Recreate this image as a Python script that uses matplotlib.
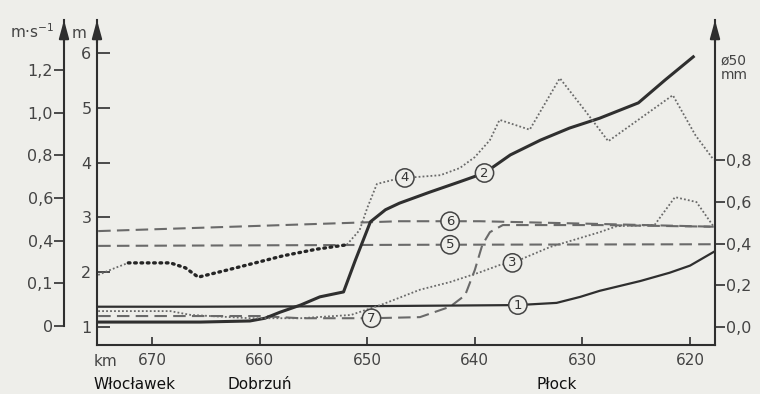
import matplotlib
matplotlib.use("Agg")
import matplotlib.pyplot as plt
import matplotlib.transforms as mtransforms

# osie
km_ticks = [670, 660, 650, 640, 630, 620]
m_ticks = [1, 2, 3, 4, 5, 6]
v_ticks = [0.0, 0.2, 0.4, 0.6, 0.8, 1.0, 1.2]
v_labels = ["0", "0,1", "0,4", "0,6", "0,8", "1,0", "1,2"]
d_ticks = [0.0, 0.2, 0.4, 0.6, 0.8]
d_labels = ["0,0", "0,2", "0,4", "0,6", "0,8"]

places = ["Włocławek", "Dobrzuń", "Płock"]
places_km = [671.6, 660.0, 632.4]

# krzywe (km, wartosc w skali m)
line1_km = [675.0, 665.5, 650.0, 636.0, 632.4, 630.2, 628.4, 624.6, 621.9, 620.0, 617.8]
line1_y = [1.37, 1.37, 1.38, 1.40, 1.44, 1.55, 1.66, 1.84, 1.99, 2.12, 2.37]

line2_km = [675.0, 665.5, 660.9, 659.5, 658.1, 656.2, 654.4, 652.2, 651.1, 649.7, 648.3,
            647.0, 644.2, 641.4, 639.1, 636.7, 633.9, 631.2, 628.4, 624.8, 622.3, 619.7]
line2_y = [1.09, 1.09, 1.11, 1.16, 1.27, 1.40, 1.55, 1.64, 2.22, 2.92, 3.14,
           3.26, 3.46, 3.65, 3.81, 4.14, 4.41, 4.63, 4.81, 5.09, 5.51, 5.93]

line3_km = [675.0, 668.3, 666.4, 660.9, 656.2, 651.5, 648.5, 645.1, 642.3, 639.5, 637.7,
            636.5, 633.0, 628.4, 626.8, 623.3, 621.4, 619.4, 617.8]
line3_y = [1.29, 1.29, 1.22, 1.16, 1.16, 1.22, 1.42, 1.68, 1.82, 2.00, 2.13,
           2.17, 2.46, 2.73, 2.84, 2.86, 3.37, 3.28, 2.83]

line4_km = [675.0, 673.4, 672.2, 668.3, 666.9, 665.7, 663.0, 660.0, 657.8, 654.7, 651.9,
            650.7, 650.0, 649.1, 647.7, 646.5, 643.2, 641.4, 640.0, 638.6, 637.7, 634.9,
            632.1, 629.8, 627.6, 624.6, 621.6, 619.5, 617.8]
line4_y = [1.95, 2.08, 2.17, 2.17, 2.08, 1.91, 2.04, 2.19, 2.30, 2.42, 2.50,
           2.77, 3.17, 3.61, 3.68, 3.72, 3.77, 3.90, 4.10, 4.41, 4.78, 4.60,
           5.54, 4.96, 4.39, 4.81, 5.23, 4.50, 4.05]

line5_km = [675.0, 646.0, 617.8]
line5_y = [2.48, 2.50, 2.51]

line6_km = [675.0, 660.9, 647.0, 639.5, 628.4, 617.8]
line6_y = [2.75, 2.84, 2.93, 2.93, 2.88, 2.83]

line7_km = [675.0, 665.5, 660.0, 656.2, 649.6, 645.1, 642.3, 640.9, 640.0, 639.3, 638.6,
            637.4, 632.1, 628.4, 617.8]
line7_y = [1.20, 1.20, 1.20, 1.16, 1.16, 1.18, 1.37, 1.58, 2.04, 2.50, 2.73,
           2.86, 2.86, 2.86, 2.83]

label_no = [1, 2, 3, 4, 5, 6, 7]
label_km = [636.0, 639.1, 636.5, 646.5, 642.3, 642.3, 649.6]
label_y = [1.40, 3.81, 2.17, 3.72, 2.50, 2.93, 1.16]

bg = "#eeeeea"
dark = "#2f2f2f"
grey = "#6a6a6a"

plt.rcParams['font.family'] = ['DejaVu Sans']

fig = plt.figure(figsize=(7.6, 3.94), dpi=100, facecolor=bg)
ax = fig.add_axes([97 / 760, 49 / 394, 618 / 760, 325 / 394])
ax.set_facecolor(bg)
ax.set_xlim(675.11, 617.68)
ax.set_ylim(0.6715, 6.602)

# os predkosci (m/s) po lewej
ax_v = ax.twinx()
ax_v.set_ylim(-0.0891, 1.4344)
# os srednicy (mm) po prawej
ax_d = ax.twinx()
ax_d.set_ylim(-0.0862, 1.4707)

for a in (ax, ax_v, ax_d):
    for s in a.spines.values():
        s.set_visible(False)
        s.set_linewidth(1.5)
        s.set_color(dark)

ax.spines['left'].set_visible(True)
ax.spines['bottom'].set_visible(True)
ax.set_xticks(km_ticks)
ax.set_xticklabels([str(k) for k in km_ticks])
ax.set_yticks(m_ticks)
ax.set_yticklabels([str(m) for m in m_ticks])
ax.tick_params(axis='x', direction='in', length=6, width=1.2, color=dark,
               labelsize=11, labelcolor="#444444", pad=6)
ax.tick_params(axis='y', direction='in', length=9, width=1.2, color=dark,
               labelsize=11.5, labelcolor="#444444", pad=4)

ax_v.yaxis.set_ticks_position('left')
ax_v.yaxis.set_label_position('left')
ax_v.spines['left'].set_visible(True)
ax_v.spines['left'].set_position(('axes', -33 / 618))
ax_v.spines['left'].set_bounds(0, 1.4344)
ax_v.set_yticks(v_ticks)
ax_v.set_yticklabels(v_labels)
ax_v.tick_params(axis='y', direction='out', length=7, width=1.2, color=dark,
                 labelsize=11.5, labelcolor="#444444", pad=1)

ax_d.spines['right'].set_visible(True)
ax_d.set_yticks(d_ticks)
ax_d.set_yticklabels(d_labels)
ax_d.tick_params(axis='y', direction='out', length=7, width=1.2, color=dark,
                 labelsize=11.5, labelcolor="#444444", pad=1)

# strzalki na koncach osi
for xa in (-33 / 618, 0.0, 1.0):
    ax.annotate('', xy=(xa, 1.0), xytext=(xa, 0.93), xycoords='axes fraction',
                arrowprops=dict(arrowstyle='-|>,head_length=1.1,head_width=0.3',
                                color=dark, lw=1.5, mutation_scale=10,
                                shrinkA=0, shrinkB=0), annotation_clip=False)

# krzywe
ax.plot(line1_km, line1_y, color=dark, lw=1.6, zorder=3)
ax.plot(line2_km, line2_y, color=dark, lw=2.2, zorder=3)
ax.plot(line3_km, line3_y, color=grey, lw=1.3, linestyle=(0, (1, 1.2)), zorder=3)
ax.plot(line4_km[:3], line4_y[:3], color=grey, lw=1.3, linestyle=(0, (1, 1.2)), zorder=3)
ax.plot(line4_km[2:11], line4_y[2:11], color="#252525", lw=2.4,
        linestyle=(0, (0.5, 1.4)), dash_capstyle='round', zorder=3)
ax.plot(line4_km[10:], line4_y[10:], color=grey, lw=1.3, linestyle=(0, (1, 1.2)), zorder=3)
ax.plot(line5_km, line5_y, color=grey, lw=1.5, dashes=(6, 3), zorder=2)
ax.plot(line6_km, line6_y, color=grey, lw=1.5, dashes=(6, 3), zorder=2)
ax.plot(line7_km, line7_y, color=grey, lw=1.5, dashes=(6, 3), zorder=2)

for n, k, y in zip(label_no, label_km, label_y):
    ax.text(k, y, str(n), ha='center', va='center', fontsize=9.5, color="#333333",
            bbox=dict(boxstyle='circle,pad=0.2', fc=bg, ec="#444444", lw=1.1), zorder=5)

# opisy
trans = mtransforms.blended_transform_factory(ax.transData, ax.transAxes)
ax.text(675.4, -0.0495, "km", transform=trans, ha='left', va='center',
        fontsize=11, color="#444444")
for name, k in zip(places, places_km):
    ax.text(k, -0.123, name, transform=trans, ha='center', va='center',
            fontsize=11, color="#111111")

fig.text(10 / 760, 1 - 32 / 394, "m·s$^{-1}$", ha='left', va='center',
         fontsize=11, color="#444444")
fig.text(72 / 760, 1 - 33 / 394, "m", ha='left', va='center',
         fontsize=11, color="#444444")
fig.text(721 / 760, 1 - 68 / 394, "ø50\nmm", ha='left', va='center',
         fontsize=10, color="#444444", linespacing=1.0)

fig.savefig("out.png", dpi=100, facecolor=bg)
